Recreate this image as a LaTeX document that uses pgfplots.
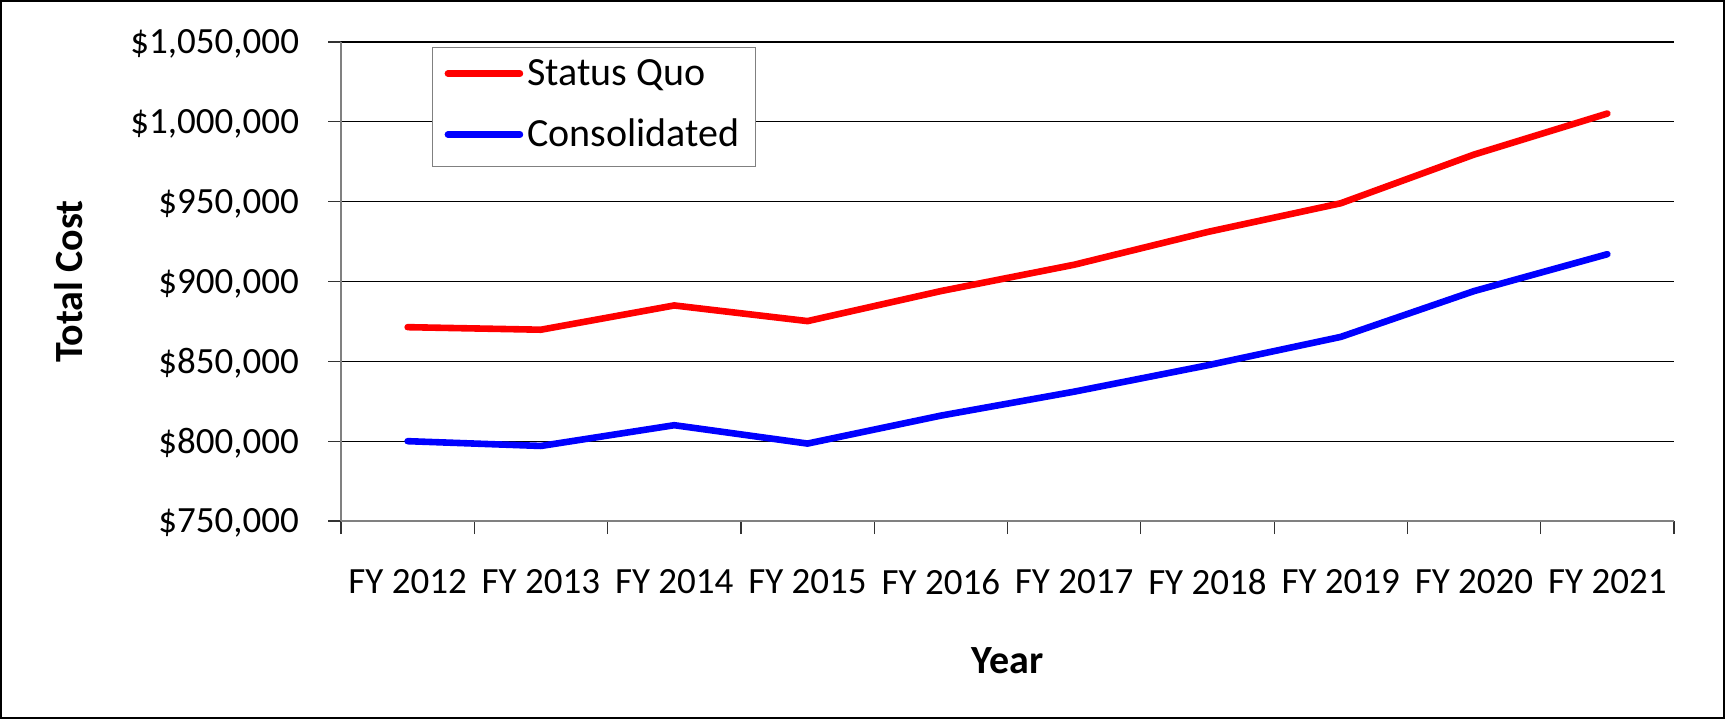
\documentclass[border=0pt]{standalone}
\usepackage{fontspec}
\setmainfont{Carlito}
\usepackage{pgfplots}
\pgfplotsset{compat=1.18}
\newcommand\cf{\fontsize{20}{24}\selectfont}
\newcommand\tf{\fontsize{18.5}{22}\selectfont}
\begin{document}
\begin{tikzpicture}
\useasboundingbox (0,0) rectangle (862.5pt,359.5pt);
\draw[line width=1pt] (0.5pt,0.5pt) rectangle (862pt,359pt);
\begin{axis}[
  at={(170.5pt,99pt)}, anchor=south west,
  scale only axis, width=666.5pt, height=239.5pt,
  xmin=0.5, xmax=10.5, ymin=750000, ymax=1050000,
  xtick={0.5,1.5,...,10.5},
  xticklabels={},
  extra x ticks={1,2,3,4,5,6,7,8,9,10},
  extra x tick labels={FY 2012,FY 2013,FY 2014,FY 2015,FY 2016,FY 2017,FY 2018,FY 2019,FY 2020,FY 2021},
  extra x tick style={tick style={draw=none}, grid=none},
  ytick={750000,800000,850000,900000,950000,1000000,1050000},
  yticklabels={{\$750,000},{\$800,000},{\$850,000},{\$900,000},{\$950,000},{\$1,000,000},{\$1,050,000}},
  scaled y ticks=false,
  axis x line*=bottom, axis y line*=left,
  x axis line style={gray, line width=1.2pt},
  y axis line style={gray, line width=0.6pt},
  ymajorgrids, major grid style={black, line width=0.6pt},
  tick align=outside, major tick length=6.5pt,
  tick style={black!80, line width=0.6pt},
  tick label style={font=\tf},
  xticklabel style={yshift=-14pt},
  yticklabel style={xshift=-11pt, yshift=-1pt},
  xlabel={Year}, ylabel={Total Cost},
  label style={font=\cf\bfseries},
  xlabel style={at={(axis description cs:0.5,-0.2923)}, anchor=center},
  ylabel style={at={(axis description cs:-0.2041,0.5)}, anchor=center},
  legend style={at={(axis description cs:0.0683,0.9896)}, anchor=north west,
    draw=gray, line width=0.6pt, font=\cf, inner xsep=6pt, inner ysep=3pt,
    row sep=7.5pt, nodes={text height=14pt, text depth=5pt}},
  legend cell align=left,
  legend image code/.code={\draw[#1, line cap=round] (0pt,1.5pt) -- (36pt,1.5pt);},
  every axis plot/.append style={line width=3.3pt, line join=round, line cap=round},
]
\addplot[red] coordinates {(1,871400) (2,869800) (3,885000) (4,875200) (5,894000) (6,910500) (7,931000) (8,949000) (9,979500) (10,1005200)};
\addlegendentry{Status Quo}
\addplot[blue] coordinates {(1,800000) (2,797000) (3,810000) (4,798500) (5,816000) (6,831000) (7,847500) (8,865300) (9,894000) (10,917100)};
\addlegendentry{Consolidated}
\end{axis}
\end{tikzpicture}
\end{document}
